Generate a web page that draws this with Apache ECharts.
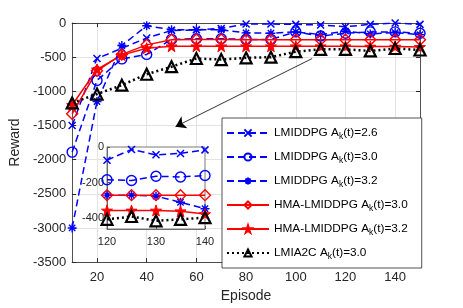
<!DOCTYPE html>
<html><head><meta charset="utf-8">
<script src="https://cdn.jsdelivr.net/npm/echarts@6/dist/echarts.min.js"></script>
<style>html,body{margin:0;padding:0;background:#fff}#c{width:463px;height:308px}</style>
</head><body><div id="c"></div>
<script>
// ---- data ----
const episodes = [10,20,30,40,50,60,70,80,90,100,110,120,130,140,150];
const lmiddpg26 = [-1500,-520,-370,-220,-110,-100,-80,-15,-15,-20,-30,-55,-20,0,-20];
const lmiddpg30 = [-1890,-840,-525,-460,-240,-230,-230,-240,-240,-130,-190,-150,-130,-130,-150];
const lmiddpg32 = [-3000,-1150,-330,-40,-100,-100,-100,-145,-150,-130,-170,-120,-160,-140,-170];
const hma30 = [-1330,-700,-460,-320,-245,-240,-240,-245,-245,-245,-245,-245,-245,-245,-245];
const hma32 = [-1200,-680,-470,-370,-340,-340,-340,-340,-340,-340,-340,-340,-345,-345,-350];
const lmia2c30 = [-1170,-1040,-910,-750,-640,-520,-535,-510,-500,-420,-385,-385,-409,-373,-395];

const episodesInset = [120,125,130,135,140];
const inLmiddpg26 = [-74,-14,-44,-36,-16];
const inLmiddpg30 = [-184,-188,-164,-168,-160];
const inLmiddpg32 = [-270,-270,-276,-310,-346];
const inHma30 = [-270,-270,-270,-270,-270];
const inHma32 = [-356,-356,-356,-360,-376];
const inLmia2c30 = [-406,-390,-414,-406,-396];

const xTickLabels = [20,40,60,80,100,120,140];
const insetYTicks = [0,-200,-400];
const arrowFrom = [106.6,-520];
const arrowTo = [51.6,-1517];

const names = ['LMIDDPG A_k(t)=2.6','LMIDDPG A_k(t)=3.0','LMIDDPG A_k(t)=3.2',
  'HMA-LMIDDPG A_k(t)=3.0','HMA-LMIDDPG A_k(t)=3.2','LMIA2C A_k(t)=3.0'];

// ---- styles ----
const FONT = 'Liberation Sans, Arial, Helvetica, sans-serif';
const BLUE = '#0000ff', RED = '#ff0000', BLACK = '#000000';
const X_MARK = 'path://M0,0L10,10M10,0L0,10';
const AST = 'path://M5,0L5,10M0,5L10,5M1.5,1.5L8.5,8.5M8.5,1.5L1.5,8.5';
const PENT = 'path://M50,0L61.8,35.1L98.9,35.1L68.8,56.9L80.3,91.9L50,70.2L19.7,91.9L31.2,56.9L1.1,35.1L38.2,35.1Z';
const styles = [
  {color:BLUE, type:[7,4], width:1.5, symbol:X_MARK, size:7, fill:BLUE, bw:1.5},
  {color:BLUE, type:[7,4], width:1.5, symbol:'circle', size:10, fill:'rgba(255,255,255,0)', bw:1.4},
  {color:BLUE, type:[7,4], width:1.5, symbol:AST, size:9, fill:BLUE, bw:1.4},
  {color:RED, type:'solid', width:1.5, symbol:'diamond', size:11, fill:'rgba(255,255,255,0)', bw:1.4},
  {color:RED, type:'solid', width:1.5, symbol:PENT, size:11, fill:RED, bw:1},
  {color:BLACK, type:[2,3], width:2.5, symbol:'triangle', size:11, fill:'rgba(255,255,255,0)', bw:2.2}
];
const mainData = [lmiddpg26,lmiddpg30,lmiddpg32,hma30,hma32,lmia2c30];
const insetData = [inLmiddpg26,inLmiddpg30,inLmiddpg32,inHma30,inHma32,inLmia2c30];

function mk(i, xs, ys, xi, yi, z) {
  const s = styles[i];
  return {
    name: names[i], type:'line', xAxisIndex:xi, yAxisIndex:yi, z:z,
    data: xs.map((x,k)=>[x, ys[k]]),
    symbol: s.symbol, symbolSize: s.size, showAllSymbol:true, animation:false,
    lineStyle:{color:s.color, width:s.width, type:s.type},
    itemStyle:{color:s.fill, borderColor:s.color, borderWidth:s.bw},
    emphasis:{disabled:true}
  };
}
const series = [];
for (let i=0;i<6;i++) series.push(mk(i, episodes, mainData[i], 0, 0, 2));
for (let i=0;i<6;i++) { const s = mk(i, episodesInset, insetData[i], 2, 2, 12); series.push(s); }
series[5].markLine = {
  silent:true, symbol:['none','arrow'], symbolSize:10, animation:false, precision:4,
  lineStyle:{color:'#000', width:0.8, type:'solid'}, itemStyle:{color:'#000'}, label:{show:false},
  data:[[{coord:arrowFrom},{coord:arrowTo}]]
};

const AX = '#262626', GRID = '#e3e3e3';
const plain = v => String(v);
const chart = echarts.init(document.getElementById('c'), null, {renderer:'canvas'});
chart.setOption({
  animation:false,
  backgroundColor:'#fff',
  grid:[
    {left:66, top:23, width:354, height:242, show:false},
    {left:107, top:147, width:98, height:82, show:true, backgroundColor:'#fff', borderColor:'#555', borderWidth:0.8, z:10}
  ],
  xAxis:[
    {type:'value', gridIndex:0, min:10, max:150, position:'bottom',
     name:'Episode', nameLocation:'middle', nameGap:25,
     nameTextStyle:{fontFamily:FONT, fontSize:14, color:'#262626'},
     axisLine:{show:true, onZero:false, lineStyle:{color:AX, width:0.8}},
     axisTick:{show:true, inside:true, length:4, customValues:xTickLabels, lineStyle:{color:AX}},
     axisLabel:{customValues:xTickLabels, formatter:plain, fontFamily:FONT, fontSize:13, color:'#262626', margin:9},
     splitLine:{show:true, lineStyle:{color:GRID, width:1}}},
    {type:'value', gridIndex:0, min:10, max:150, position:'top',
     axisLine:{show:true, onZero:false, lineStyle:{color:AX, width:0.8}},
     axisTick:{show:true, inside:true, length:4, customValues:xTickLabels, lineStyle:{color:AX}},
     axisLabel:{show:false}, splitLine:{show:false}},
    {type:'value', gridIndex:1, min:120, max:140, interval:10, position:'bottom', z:11,
     axisLine:{show:true, onZero:false, lineStyle:{color:'#555', width:0.8}},
     axisTick:{show:true, inside:true, length:3, lineStyle:{color:'#555'}},
     axisLabel:{formatter:plain, fontFamily:FONT, fontSize:11, color:'#262626', margin:7},
     splitLine:{show:false}}
  ],
  yAxis:[
    {type:'value', gridIndex:0, min:-3500, max:0, interval:500, position:'left',
     name:'Reward', nameLocation:'middle', nameGap:46,
     nameTextStyle:{fontFamily:FONT, fontSize:14, color:'#262626'},
     axisLine:{show:true, onZero:false, lineStyle:{color:AX, width:0.8}},
     axisTick:{show:true, inside:true, length:4, lineStyle:{color:AX}},
     axisLabel:{formatter:plain, fontFamily:FONT, fontSize:13, color:'#262626', margin:6},
     splitLine:{show:true, lineStyle:{color:GRID, width:1}}},
    {type:'value', gridIndex:0, min:-3500, max:0, interval:500, position:'right',
     axisLine:{show:true, onZero:false, lineStyle:{color:AX, width:0.8}},
     axisTick:{show:true, inside:true, length:4, lineStyle:{color:AX}},
     axisLabel:{show:false}, splitLine:{show:false}},
    {type:'value', gridIndex:1, min:-460, max:0, position:'left', z:11,
     axisLine:{show:true, onZero:false, lineStyle:{color:'#555', width:0.8}},
     axisTick:{show:true, inside:true, length:3, customValues:insetYTicks, lineStyle:{color:'#555'}},
     axisLabel:{customValues:insetYTicks, formatter:plain, fontFamily:FONT, fontSize:11, color:'#262626', margin:3},
     splitLine:{show:false}}
  ],
  legend:{
    data:names, orient:'vertical', left:222, top:118,
    padding:[7,14,7,4], itemGap:8, itemWidth:42, itemHeight:9,
    backgroundColor:'#fff', borderColor:'#262626', borderWidth:0.8, borderRadius:0,
    selectedMode:false, z:20,
    textStyle:{fontFamily:FONT, fontSize:11.8, color:'#000', lineHeight:15,
      rich:{sub:{fontFamily:FONT, fontSize:8.5, color:'#000', padding:[7,0,0,0], lineHeight:15}}},
    formatter:function(n){ return n.replace('A_k','A{sub|k}'); }
  },
  series:series
});
</script></body></html>
